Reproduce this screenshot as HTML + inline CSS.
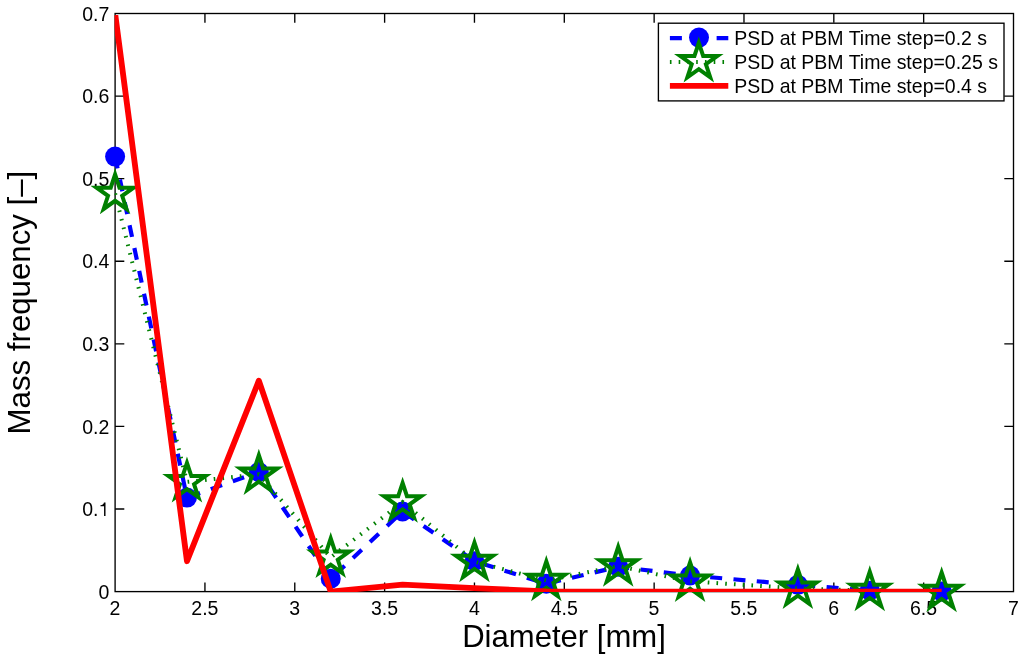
<!DOCTYPE html>
<html><head><meta charset="utf-8"><style>
html,body{margin:0;padding:0;background:#fff;}
body{width:1024px;height:658px;overflow:hidden;}
svg{display:block;will-change:transform;}
text{font-family:"Liberation Sans",sans-serif;fill:#000;}
</style></head><body>
<svg width="1024" height="658" viewBox="0 0 1024 658">
<rect x="0" y="0" width="1024" height="658" fill="#fff"/>
<defs><clipPath id="ax"><rect x="114.60" y="15.00" width="899.60" height="577.10"/></clipPath></defs>

<path d="M204.94,591.6V582.40M204.94,13.5V22.70M294.78,591.6V582.40M294.78,13.5V22.70M384.62,591.6V582.40M384.62,13.5V22.70M474.46,591.6V582.40M474.46,13.5V22.70M564.30,591.6V582.40M564.30,13.5V22.70M654.14,591.6V582.40M654.14,13.5V22.70M743.98,591.6V582.40M743.98,13.5V22.70M833.82,591.6V582.40M833.82,13.5V22.70M923.66,591.6V582.40M923.66,13.5V22.70M115.1,509.01H124.30M1013.5,509.01H1004.30M115.1,426.43H124.30M1013.5,426.43H1004.30M115.1,343.84H124.30M1013.5,343.84H1004.30M115.1,261.26H124.30M1013.5,261.26H1004.30M115.1,178.67H124.30M1013.5,178.67H1004.30M115.1,96.09H124.30M1013.5,96.09H1004.30" stroke="#000" stroke-width="1.35" fill="none"/>
<rect x="115.1" y="13.5" width="898.40" height="578.10" fill="none" stroke="#000" stroke-width="1.35"/>
<text x="115.00" y="615.1" font-size="19.5" text-anchor="middle">2</text>
<text x="204.84" y="615.1" font-size="19.5" text-anchor="middle">2.5</text>
<text x="294.68" y="615.1" font-size="19.5" text-anchor="middle">3</text>
<text x="384.52" y="615.1" font-size="19.5" text-anchor="middle">3.5</text>
<text x="474.36" y="615.1" font-size="19.5" text-anchor="middle">4</text>
<text x="564.20" y="615.1" font-size="19.5" text-anchor="middle">4.5</text>
<text x="654.04" y="615.1" font-size="19.5" text-anchor="middle">5</text>
<text x="743.88" y="615.1" font-size="19.5" text-anchor="middle">5.5</text>
<text x="833.72" y="615.1" font-size="19.5" text-anchor="middle">6</text>
<text x="923.56" y="615.1" font-size="19.5" text-anchor="middle">6.5</text>
<text x="1013.40" y="615.1" font-size="19.5" text-anchor="middle">7</text>
<text x="109.3" y="598.70" font-size="19.5" text-anchor="end">0</text>
<text x="82.19" y="516.11" font-size="19.5">0.</text>
<path transform="translate(98.45,516.11) scale(0.0195,-0.0195)" d="M362,0L288,0L288,500L103,500L103,560C200,570 262,610 282,703L362,703Z" fill="#000"/>
<text x="109.3" y="433.53" font-size="19.5" text-anchor="end">0.2</text>
<text x="109.3" y="350.94" font-size="19.5" text-anchor="end">0.3</text>
<text x="109.3" y="268.36" font-size="19.5" text-anchor="end">0.4</text>
<text x="109.3" y="185.77" font-size="19.5" text-anchor="end">0.5</text>
<text x="109.3" y="103.19" font-size="19.5" text-anchor="end">0.6</text>
<text x="109.3" y="20.60" font-size="19.5" text-anchor="end">0.7</text>
<text transform="translate(564.0,646.5) scale(1,1.035)" font-size="31.1" text-anchor="middle">Diameter [mm]</text>
<text transform="translate(30.4,302.6) rotate(-90) scale(1,1.035)" font-size="31.2" text-anchor="middle">Mass frequency [&#8211;]</text>
<polyline clip-path="url(#ax)" points="115.10,156.62 186.97,497.62 258.84,472.02 330.72,578.80 402.59,511.49 474.46,561.21 546.33,583.75 618.20,566.82 690.08,575.50 797.88,584.83 869.76,590.69 941.63,591.60" fill="none" stroke="#0000ff" stroke-width="4.2" stroke-dasharray="12.0 11.36" stroke-dashoffset="0.00"/>
<circle cx="115.10" cy="156.62" r="10.0" fill="#0000ff"/>
<circle cx="186.97" cy="497.62" r="10.0" fill="#0000ff"/>
<circle cx="258.84" cy="472.02" r="10.0" fill="#0000ff"/>
<circle cx="330.72" cy="578.80" r="10.0" fill="#0000ff"/>
<circle cx="402.59" cy="511.49" r="10.0" fill="#0000ff"/>
<circle cx="474.46" cy="561.21" r="10.0" fill="#0000ff"/>
<circle cx="546.33" cy="583.75" r="10.0" fill="#0000ff"/>
<circle cx="618.20" cy="566.82" r="10.0" fill="#0000ff"/>
<circle cx="690.08" cy="575.50" r="10.0" fill="#0000ff"/>
<circle cx="797.88" cy="584.83" r="10.0" fill="#0000ff"/>
<circle cx="869.76" cy="590.69" r="10.0" fill="#0000ff"/>
<circle cx="941.63" cy="591.60" r="10.0" fill="#0000ff"/>
<polyline clip-path="url(#ax)" points="115.10,193.54 186.97,481.93 258.84,474.33 330.72,557.49 402.59,502.08 474.46,561.62 546.33,580.53 618.20,566.08 690.08,581.36 797.88,588.38 869.76,590.69 941.63,591.60" fill="none" stroke="#008000" stroke-width="4.0" stroke-dasharray="1.6 7.16" stroke-dashoffset="0.00"/>
<polygon points="115.10,174.44 119.47,187.63 133.63,187.63 122.18,195.79 126.55,208.99 115.10,200.83 103.65,208.99 108.02,195.79 96.57,187.63 110.73,187.63" fill="none" stroke="#008000" stroke-width="4.0" stroke-miterlimit="10"/>
<polygon points="186.97,462.83 191.35,476.02 205.50,476.02 194.05,484.18 198.42,497.38 186.97,489.22 175.52,497.38 179.89,484.18 168.44,476.02 182.60,476.02" fill="none" stroke="#008000" stroke-width="4.0" stroke-miterlimit="10"/>
<polygon points="258.84,455.23 263.22,468.43 277.37,468.43 265.92,476.58 270.30,489.78 258.84,481.62 247.39,489.78 251.77,476.58 240.32,468.43 254.47,468.43" fill="none" stroke="#008000" stroke-width="4.0" stroke-miterlimit="10"/>
<polygon points="330.72,538.39 335.09,551.59 349.24,551.59 337.79,559.75 342.17,572.94 330.72,564.79 319.26,572.94 323.64,559.75 312.19,551.59 326.34,551.59" fill="none" stroke="#008000" stroke-width="4.0" stroke-miterlimit="10"/>
<polygon points="402.59,482.98 406.96,496.17 421.12,496.17 409.67,504.33 414.04,517.53 402.59,509.37 391.14,517.53 395.51,504.33 384.06,496.17 398.21,496.17" fill="none" stroke="#008000" stroke-width="4.0" stroke-miterlimit="10"/>
<polygon points="474.46,542.52 478.83,555.72 492.99,555.72 481.54,563.88 485.91,577.07 474.46,568.92 463.01,577.07 467.38,563.88 455.93,555.72 470.09,555.72" fill="none" stroke="#008000" stroke-width="4.0" stroke-miterlimit="10"/>
<polygon points="546.33,561.43 550.71,574.63 564.86,574.63 553.41,582.79 557.78,595.99 546.33,587.83 534.88,595.99 539.25,582.79 527.80,574.63 541.96,574.63" fill="none" stroke="#008000" stroke-width="4.0" stroke-miterlimit="10"/>
<polygon points="618.20,546.98 622.58,560.18 636.73,560.18 625.28,568.34 629.66,581.53 618.20,573.38 606.75,581.53 611.13,568.34 599.68,560.18 613.83,560.18" fill="none" stroke="#008000" stroke-width="4.0" stroke-miterlimit="10"/>
<polygon points="690.08,562.26 694.45,575.46 708.60,575.46 697.15,583.61 701.53,596.81 690.08,588.65 678.62,596.81 683.00,583.61 671.55,575.46 685.70,575.46" fill="none" stroke="#008000" stroke-width="4.0" stroke-miterlimit="10"/>
<polygon points="797.88,569.28 802.26,582.48 816.41,582.48 804.96,590.63 809.34,603.83 797.88,595.67 786.43,603.83 790.81,590.63 779.36,582.48 793.51,582.48" fill="none" stroke="#008000" stroke-width="4.0" stroke-miterlimit="10"/>
<polygon points="869.76,571.59 874.13,584.79 888.28,584.79 876.83,592.95 881.21,606.14 869.76,597.99 858.30,606.14 862.68,592.95 851.23,584.79 865.38,584.79" fill="none" stroke="#008000" stroke-width="4.0" stroke-miterlimit="10"/>
<polygon points="941.63,572.50 946.00,585.70 960.16,585.70 948.71,593.85 953.08,607.05 941.63,598.90 930.18,607.05 934.55,593.85 923.10,585.70 937.25,585.70" fill="none" stroke="#008000" stroke-width="4.0" stroke-miterlimit="10"/>
<polyline clip-path="url(#ax)" points="115.10,13.50 186.97,561.21 258.84,380.68 330.72,591.60 402.59,584.58 474.46,588.13 546.33,591.35 618.20,591.60 690.08,591.60 797.88,591.60 869.76,591.60 941.63,591.60" fill="none" stroke="#ff0000" stroke-width="5.85" stroke-linejoin="round"/>
<rect x="658.4" y="23.2" width="345.60" height="77.70" fill="#fff" stroke="#000" stroke-width="1.35"/>
<line x1="669.9" y1="38.1" x2="728.3" y2="38.1" stroke="#0000ff" stroke-width="4.2" stroke-dasharray="12.0 11.36"/>
<circle cx="699" cy="37.6" r="10.0" fill="#0000ff"/>
<line x1="669.9" y1="61.9" x2="728.3" y2="61.9" stroke="#008000" stroke-width="4.0" stroke-dasharray="1.6 7.16"/>
<polygon points="698.80,42.80 703.17,56.00 717.33,56.00 705.88,64.15 710.25,77.35 698.80,69.20 687.35,77.35 691.72,64.15 680.27,56.00 694.43,56.00" fill="none" stroke="#008000" stroke-width="4.0" stroke-miterlimit="10"/>
<line x1="669.9" y1="85.8" x2="728.3" y2="85.8" stroke="#ff0000" stroke-width="5.7"/>
<text transform="translate(734.2,44.95) scale(1,1.03)" font-size="19.5">PSD at PBM Time step=0.2 s</text>
<text transform="translate(734.2,68.8) scale(1,1.03)" font-size="19.5">PSD at PBM Time step=0.25 s</text>
<text transform="translate(734.2,92.9) scale(1,1.03)" font-size="19.5">PSD at PBM Time step=0.4 s</text>
</svg></body></html>
